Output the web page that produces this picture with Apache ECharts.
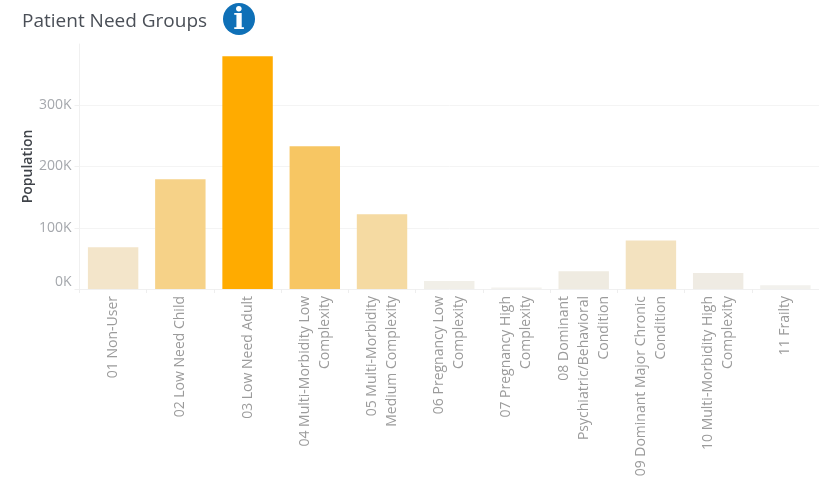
<!DOCTYPE html>
<html>
<head>
<meta charset="utf-8">
<title>Patient Need Groups</title>
<script src="https://cdn.jsdelivr.net/npm/echarts@6/dist/echarts.min.js"></script>
<style>
  html, body { margin: 0; padding: 0; background: #fff; }
  #chart { width: 819px; height: 483px; }
</style>
</head>
<body>
<div id="chart"></div>
<script>
// Population by patient need group
const categories = [
  '01 Non-User',
  '02 Low Need Child',
  '03 Low Need Adult',
  '04 Multi-Morbidity Low\nComplexity',
  '05 Multi-Morbidity\nMedium Complexity',
  '06 Pregnancy Low\nComplexity',
  '07 Pregnancy High\nComplexity',
  '08 Dominant\nPsychiatric/Behavioral\nCondition',
  '09 Dominant Major Chronic\nCondition',
  '10 Multi-Morbidity High\nComplexity',
  '11 Frailty'
];
const population = [68000, 179000, 380000, 233000, 122000, 13000, 2500, 29000, 79000, 26000, 6000];
const barColors = ['#f3e5ca', '#f6d288', '#ffab00', '#f7c663', '#f5daa2', '#f1efe8', '#f3f2ee', '#efebe1', '#f3e2bf', '#efebe3', '#f2f1ed'];

const fontFamily = '"Open Sans", "Noto Sans", sans-serif';
const chart = echarts.init(document.getElementById('chart'), null, { renderer: 'canvas' });

chart.setOption({
  animation: false,
  backgroundColor: '#ffffff',
  grid: { left: 79.5, right: 0, top: 44, bottom: 194, containLabel: false },
  title: {
    text: 'Patient Need Groups',
    left: 17,
    top: 7,
    textStyle: { fontFamily, fontSize: 19, fontWeight: 'normal', color: '#4a4f57' }
  },
  xAxis: {
    type: 'category',
    data: categories,
    axisLine: { show: true, lineStyle: { color: '#f0f0f0', width: 1 } },
    axisTick: { show: true, length: 4, lineStyle: { color: '#eeeeee' } },
    axisLabel: {
      interval: 0,
      rotate: 90,
      margin: 7,
      align: 'right',
      verticalAlign: 'middle',
      fontFamily,
      fontSize: 14,
      lineHeight: 20,
      color: '#9b9b9b'
    }
  },
  yAxis: {
    type: 'value',
    min: 0,
    max: 400000,
    interval: 100000,
    name: 'Population',
    nameLocation: 'middle',
    nameRotate: 90,
    nameGap: 44,
    nameMoveOverlap: false,
    nameTextStyle: { fontFamily, fontSize: 14, fontWeight: 600, color: '#3f4349' },
    axisLine: { show: true, lineStyle: { color: '#f0f0f0', width: 1 } },
    axisTick: { show: true, length: 5, lineStyle: { color: '#f0f0f0' } },
    axisLabel: {
      margin: 8,
      showMaxLabel: false,
      verticalAlignMinLabel: 'bottom',
      fontFamily,
      fontSize: 14,
      color: '#a5a8ad',
      formatter: v => (v / 1000) + 'K'
    },
    splitLine: { show: true, showMaxLine: false, showMinLine: false, lineStyle: { color: '#f4f4f4', width: 1 } }
  },
  series: [{
    type: 'bar',
    data: population.map((value, i) => ({ value, itemStyle: { color: barColors[i] } })),
    barCategoryGap: '25%'
  }],
  graphic: [{
    type: 'group',
    left: 223,
    top: 3,
    children: [
      { type: 'circle', shape: { cx: 16, cy: 16, r: 16 }, style: { fill: '#0f70b7' } },
      {
        type: 'text',
        style: {
          x: 16, y: 18,
          text: 'i',
          align: 'center',
          verticalAlign: 'middle',
          fill: '#ffffff',
          font: 'bold 30px "DejaVu Serif", serif'
        }
      }
    ]
  }]
});
</script>
</body>
</html>
